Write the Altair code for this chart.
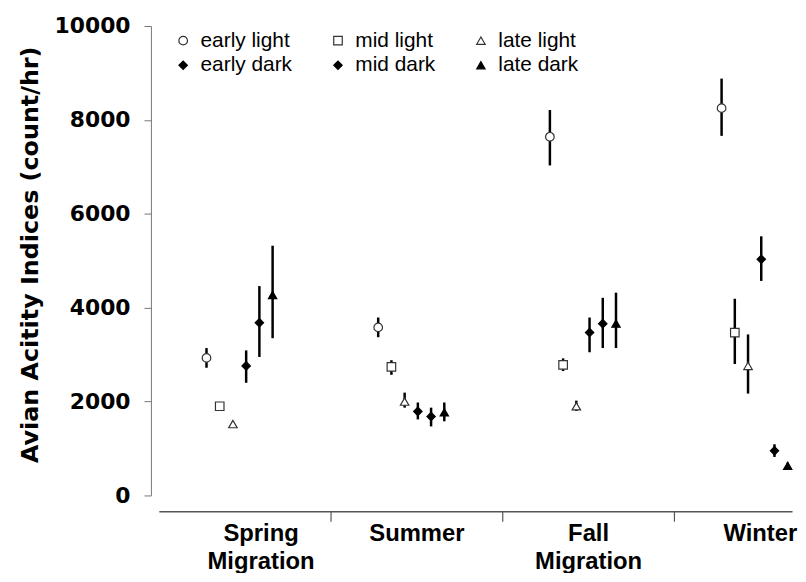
import altair as alt
import pandas as pd

seasons = ["Spring Migration", "Summer", "Fall Migration", "Winter"]
series = ["early light", "mid light", "late light", "early dark", "mid dark", "late dark"]

means = {
    "early light": [2930, 3580, 7640, 8250],
    "mid light":   [1900, 2740, 2780, 3470],
    "late light":  [1520, 2000, 1900, 2760],
    "early dark":  [2760, 1790, 3470, 5030],
    "mid dark":    [3680, 1680, 3660, 950],
    "late dark":   [4270, 1770, 3660, 630],
}
lower = {
    "early light": [2720, 3370, 7030, 7660],
    "mid light":   [1820, 2570, 2650, 2800],
    "late light":  [1470, 1870, 1800, 2170],
    "early dark":  [2400, 1620, 3050, 4570],
    "mid dark":    [2950, 1470, 3140, 820],
    "late dark":   [3350, 1580, 3140, 560],
}
upper = {
    "early light": [3140, 3790, 8210, 8880],
    "mid light":   [1980, 2880, 2920, 4190],
    "late light":  [1570, 2190, 2020, 3430],
    "early dark":  [3090, 1980, 3790, 5520],
    "mid dark":    [4460, 1870, 4210, 1090],
    "late dark":   [5320, 1980, 4320, 700],
}
y_ticks = [0, 2000, 4000, 6000, 8000, 10000]

# dodge positions within each season group
CENTER = 0.47
STEP = 0.077
rows = []
for si, s in enumerate(seasons):
    for k, name in enumerate(series):
        rows.append({
            "season": s,
            "series": name,
            "xpos": si + CENTER + (k - 2.5) * STEP,
            "mean": means[name][si],
            "lo": lower[name][si],
            "hi": upper[name][si],
        })
df = pd.DataFrame(rows)

W, H = 638, 473
xscale = alt.Scale(domain=[0, W / 173.0], nice=False, zero=False)
yscale = alt.Scale(domain=[0, 10000], nice=False)

season_arr = "[" + ",".join("'" + s + "'" for s in seasons) + "]"
label_expr = ("datum.value % 1 === 0 ? '' : split(" + season_arr +
              "[floor(datum.value)], ' ')")

xaxis = alt.Axis(
    values=[0.5, 1, 1.5, 2, 2.5, 3, 3.5],
    labelExpr=label_expr,
    tickOpacity={"condition": {"test": "datum.value % 1 === 0", "value": 1}, "value": 0},
    labelOffset={"condition": {"test": "datum.value < 1", "value": 16}, "value": 0},
    tickSize=10, tickColor="#555", tickWidth=1.2,
    domainColor="#555", domainWidth=1.5,
    labelFont="Liberation Sans", labelFontWeight="bold", labelFontSize=24,
    labelColor="black", labelLineHeight=29, labelPadding=0,
    labelOverlap=False, labelFlush=False, grid=False, title=None, offset=16,
)
yaxis = alt.Axis(
    values=y_ticks, format="d", grid=False,
    tickSize=7, tickColor="#777", domainColor="#777", domainWidth=1,
    labelFont="DejaVu Sans", labelFontWeight="bold", labelFontSize=22,
    labelColor="black", labelPadding=14, offset=8,
    title="Avian Acitity Indices (count/hr)",
    titleFont="DejaVu Sans", titleFontWeight="bold", titleFontSize=24,
    titleColor="black", titleAngle=270, titleX=-121, titleY=230,
    titleAlign="center", titleBaseline="middle",
)

legend = alt.Legend(
    orient="none", legendX=14, legendY=4, columns=3, direction="horizontal",
    columnPadding=35, rowPadding=3, title=None,
    labelFont="Liberation Sans", labelFontSize=21,
    labelColor="black", labelOffset=7, labelLimit=200,
    symbolStrokeWidth=1.2,
)

bars = alt.Chart(df).mark_rule(color="black", strokeWidth=2.5).encode(
    x=alt.X("xpos:Q", scale=xscale, axis=xaxis),
    y=alt.Y("lo:Q", scale=yscale, axis=yaxis),
    y2="hi:Q",
)

pts = alt.Chart(df).mark_point(filled=True, strokeWidth=1.2, opacity=1).encode(
    x=alt.X("xpos:Q", scale=xscale),
    y=alt.Y("mean:Q", scale=yscale),
    shape=alt.Shape("series:N", scale=alt.Scale(
        domain=series,
        range=["circle", "square", "triangle-up", "diamond", "diamond", "triangle-up"]),
        legend=legend),
    fill=alt.Fill("series:N", scale=alt.Scale(
        domain=series,
        range=["white", "white", "white", "black", "black", "black"]),
        legend=legend),
    stroke=alt.Stroke("series:N", scale=alt.Scale(
        domain=series,
        range=["#333", "#333", "#333", "black", "black", "black"]),
        legend=legend),
    size=alt.Size("series:N", scale=alt.Scale(
        domain=series, range=[75, 70, 65, 45, 45, 90]),
        legend=legend),
)

chart = alt.layer(bars, pts).properties(
    width=W, height=H, autosize="none",
    padding={"left": 152, "top": 16, "right": 6, "bottom": 76},
    background="white",
).configure_view(stroke=None)

chart.save("out.html", embed_options={"renderer": "svg", "actions": False})
